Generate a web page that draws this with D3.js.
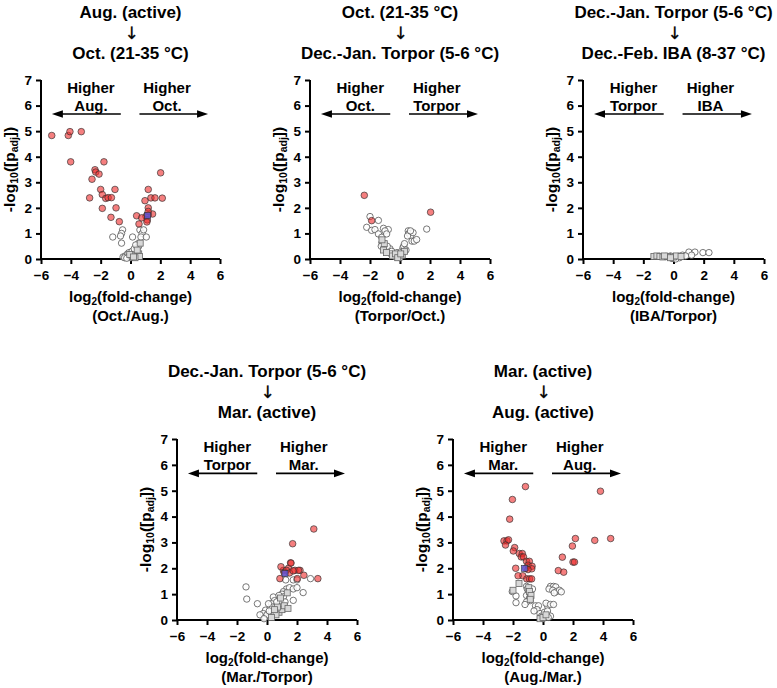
<!DOCTYPE html>
<html><head><meta charset="utf-8">
<script src="https://cdn.jsdelivr.net/npm/d3@7"></script>
<style>
body{margin:0;background:#fff;}
svg text{font-family:"Liberation Sans",Arial,sans-serif;font-weight:bold;fill:#000;}
</style></head>
<body><svg id="c" width="777" height="688"></svg>
<script>
// ---- data ----
const xTicks = [-6,-4,-2,0,2,4,6];
const yTicks = [0,1,2,3,4,5,6,7];
const titlesTop = ["Aug. (active)","Oct. (21-35 °C)","Dec.-Jan. Torpor (5-6 °C)","Dec.-Jan. Torpor (5-6 °C)","Mar. (active)"];
const titlesBottom = ["Oct. (21-35 °C)","Dec.-Jan. Torpor (5-6 °C)","Dec.-Feb. IBA (8-37 °C)","Mar. (active)","Aug. (active)"];
const leftLabels = [["Higher","Aug."],["Higher","Oct."],["Higher","Torpor"],["Higher","Torpor"],["Higher","Mar."]];
const rightLabels = [["Higher","Oct."],["Higher","Torpor"],["Higher","IBA"],["Higher","Mar."],["Higher","Aug."]];
const ratioLabels = ["(Oct./Aug.)","(Torpor/Oct.)","(IBA/Torpor)","(Mar./Torpor)","(Aug./Mar.)"];

const p1Red = [[-5.28,4.83],[-4.17,4.83],[-4.06,4.98],[-3.3,4.98],[-4.01,3.8],[-1.78,3.8],[-2.38,3.49],[-2.33,3.4],[-2.11,3.32],[-2.58,3.12],[-2.0,2.72],[-1.04,2.72],[-2.74,2.39],[-1.89,2.52],[-1.66,2.37],[-1.5,2.4],[-1.28,2.4],[-1.89,1.98],[-0.97,2.0],[-1.31,1.63],[-0.75,1.46],
  [2.02,3.37],[1.19,2.72],[0.97,2.28],[1.37,2.39],[1.64,2.39],[2.13,2.38],[1.19,2.0],[0.41,1.69],[1.04,1.67],[1.48,1.76],[0.75,1.61],[1.19,1.73],[1.13,1.53],[0.57,1.37],[1.19,1.86],[1.1,1.45]];
const p1Grey = [[-1.19,0.86],[-0.53,1.14],[-0.6,1.0],[-0.67,0.9],[-0.6,0.62],[0.14,0.86],[0.63,1.14],[0.78,1.0],[0.88,1.14],[0.7,0.86],[1.06,0.86],[0.52,0.6],[0.45,0.45],[0.4,0.3],[0.55,0.5],[-0.5,0.08],[-0.35,0.12],[-0.2,0.2],[-0.1,0.25],[0.05,0.1],[0.2,0.15],[0.3,0.22],[-0.4,0.05],[0.1,0.3],[0.25,0.4],[0.35,0.55],[0.0,0.05],[-0.25,0.03]];
const p1Sq = [[0.55,0.2],[0.6,0.1],[0.3,0.05],[0.1,0.12],[-0.05,0.18],[0.45,0.35],[0.2,0.08],[0.65,0.62]];
const p1Blue = [[1.15,1.7]];

const p2Red = [[-2.38,2.49],[-1.89,1.5],[2.04,1.83]];
const p2Grey = [[-2.0,1.66],[-1.44,1.51],[-2.22,1.24],[-1.89,1.12],[-1.67,1.15],[-1.1,1.2],[-0.78,1.15],[-1.0,1.1],[-1.44,0.98],[-1.22,0.85],[-0.89,0.98],[-1.2,0.65],[-1.15,0.55],[-1.05,0.45],[-1.25,0.5],[-0.67,0.4],[-0.55,0.3],[-0.45,0.15],[-0.2,0.25],[-0.1,0.1],[0.0,0.05],[-0.3,0.08],[0.1,0.3],[0.2,0.45],[0.25,0.5],[0.55,1.1],[0.6,1.0],[0.72,0.9],[0.5,0.9],[0.8,0.7],[0.95,0.7],[1.78,1.17],[1.11,0.76],[0.87,1.03],[0.7,1.1],[-0.85,0.5],[-0.6,0.2],[0.3,0.6],[0.4,0.35]];
const p2Sq = [[-1.05,0.6],[-1.1,0.35],[-0.9,0.25],[-0.5,0.12],[-0.3,0.2],[0.15,0.15],[0.3,0.3],[-0.15,0.05],[0.05,0.2],[-1.2,0.75]];
const p2Blue = [];

const p3Red = [];
const p3Grey = [[1.02,0.27],[1.42,0.27],[1.95,0.25],[2.35,0.25],[0.6,0.15],[0.3,0.1],[0.0,0.05],[-0.2,0.12],[0.8,0.12],[1.2,0.15],[-0.5,0.1],[0.4,0.05],[-0.1,0.02],[0.15,0.0]];
const p3Sq = [[-1.3,0.1],[-1.1,0.12],[-0.9,0.1],[-0.7,0.08],[-0.4,0.1],[-0.6,0.12],[0.0,0.08],[0.2,0.12],[0.5,0.1],[-0.2,0.05]];
const p3Blue = [];

const p4Red = [[3.12,3.52],[1.71,2.95],[1.57,2.21],[1.43,2.0],[1.09,1.92],[1.3,1.92],[1.86,1.92],[2.2,1.92],[2.1,1.92],[0.93,2.06],[1.15,1.82],[1.5,1.82],[2.46,1.73],[0.86,1.6],[2.02,1.6],[3.39,1.6],[1.6,2.2],[1.75,1.9]];
const p4Grey = [[2.9,1.6],[-1.4,1.28],[-1.35,0.81],[-0.64,0.63],[2.41,1.06],[1.75,0.76],[1.3,1.2],[1.5,1.25],[1.75,1.2],[2.0,1.25],[1.1,1.1],[1.0,1.0],[1.25,1.55],[1.75,1.55],[2.0,1.55],[0.42,0.89],[0.5,0.75],[0.3,0.63],[0.35,0.5],[0.1,0.63],[-0.1,0.38],[-0.25,0.25],[-0.1,0.12],[0.2,0.12],[0.7,0.38],[0.86,0.5],[1.0,0.63],[0.9,0.75],[1.1,0.9],[0.8,0.95],[0.6,0.55],[0.45,0.3],[0.0,0.2],[-0.47,0.2],[-0.2,0.05],[0.15,0.35],[0.65,0.7],[1.2,0.7]];
const p4Sq = [[0.8,0.3],[1.0,0.4],[0.6,0.2],[0.3,0.1],[1.15,0.55],[0.7,0.5],[1.4,0.45],[0.9,0.85],[0.5,0.4],[1.35,1.05]];
const p4Blue = [[1.2,1.8]];

const p5Red = [[-1.17,5.16],[-2.04,4.66],[-2.22,3.9],[3.83,4.98],[4.51,3.15],[3.45,3.08],[2.16,3.15],[1.96,2.86],[1.29,2.43],[2.0,2.24],[2.1,2.24],[1.02,1.91],[1.38,1.85],[-2.6,3.06],[-2.4,3.06],[-2.3,3.1],[-2.5,2.9],[-1.89,2.8],[-1.98,2.67],[-1.58,2.57],[-1.38,2.57],[-1.45,2.44],[-1.3,2.44],[-1.1,2.27],[-0.91,2.27],[-1.0,2.12],[-0.73,2.08],[-0.75,1.98],[-1.82,2.0],[-1.15,2.0],[-1.0,1.95],[-1.35,1.71],[-1.08,1.59],[-0.9,1.59],[-0.76,1.59],[-1.66,1.71]];
const p5Grey = [[-1.8,0.93],[-1.8,0.67],[-1.1,1.3],[-1.05,1.2],[-0.95,1.05],[-1.1,0.95],[-0.9,0.85],[-0.85,0.75],[-1.1,0.7],[-1.2,0.6],[-0.5,0.55],[-0.3,0.55],[-0.4,0.4],[-0.2,0.25],[-0.1,0.15],[0.1,0.3],[0.3,0.55],[0.2,0.65],[0.5,0.6],[0.7,0.6],[0.3,0.35],[0.5,0.15],[0.5,1.3],[0.7,1.3],[0.85,1.28],[0.4,1.2],[0.65,1.15],[0.9,1.1],[1.1,1.15],[0.75,1.05],[1.22,1.09],[-0.6,0.35],[0.0,0.05],[0.35,0.1],[-2.05,1.1],[-0.7,1.2]];
const p5Sq = [[-1.6,1.41],[-2.0,1.15],[-0.95,1.25],[-0.9,1.1],[-0.8,0.95],[-0.2,0.05],[0.0,0.1],[0.2,0.2],[-0.85,0.8]];
const p5Blue = [[-1.25,2.0]];

const pointSets = [
  [p1Red,p1Grey,p1Sq,p1Blue],
  [p2Red,p2Grey,p2Sq,p2Blue],
  [p3Red,p3Grey,p3Sq,p3Blue],
  [p4Red,p4Grey,p4Sq,p4Blue],
  [p5Red,p5Grey,p5Sq,p5Blue]
];

// ---- layout ----
const frames = [
  {l:41,r:220,t:80,b:259},
  {l:310,r:490,t:80,b:259},
  {l:583,r:764,t:80,b:259},
  {l:177,r:357,t:439,b:620},
  {l:453,r:633,t:439,b:620}
];

const svg = d3.select("#c");

frames.forEach((f,i)=>{
  const x = d3.scaleLinear().domain([-6,6]).range([f.l,f.r]);
  const y = d3.scaleLinear().domain([0,7]).range([f.b,f.t]);
  const g = svg.append("g");
  const cx = (f.l+f.r)/2;

  // titles
  g.append("text").attr("x",cx).attr("y",f.t-62).attr("text-anchor","middle").style("font-size","17px").text(titlesTop[i]);
  g.append("text").attr("x",Math.round(cx)+0.5).attr("y",f.t-41).attr("text-anchor","middle")
    .style("font-family","'DejaVu Sans',sans-serif").style("font-size","17px").style("font-weight","normal")
    .style("fill","#000").style("stroke","#000").style("stroke-width","0.3px").text("\u2193");
  g.append("text").attr("x",cx).attr("y",f.t-21).attr("text-anchor","middle").style("font-size","17px").text(titlesBottom[i]);

  // axes
  const ax = g.append("g").attr("transform",`translate(0,${f.b})`)
    .call(d3.axisBottom(x).tickValues(xTicks).tickSize(5).tickSizeOuter(0).tickFormat(d3.format("d")));
  const ay = g.append("g").attr("transform",`translate(${f.l},0)`)
    .call(d3.axisLeft(y).tickValues(yTicks).tickSize(5).tickSizeOuter(0).tickFormat(d3.format("d")));
  [ax,ay].forEach(a=>{
    a.select(".domain").attr("stroke","#000").attr("stroke-width",2);
    a.selectAll(".tick line").attr("stroke","#000").attr("stroke-width",2);
    a.selectAll(".tick text").style("font-size","13.5px").style("font-family","'Liberation Sans',Arial,sans-serif").style("font-weight","bold").attr("fill","#000");
  });
  ax.selectAll(".tick text").attr("dy","0.95em");
  ay.selectAll(".tick text").attr("dx","-1px");
  ax.select(".domain").attr("d",`M${f.l-1},0H${f.r}`);
  ay.select(".domain").attr("d",`M0,${f.b+1}V${f.t}`);

  // x label
  const xl = g.append("text").attr("x",cx).attr("y",f.b+43).attr("text-anchor","middle").style("font-size","15px");
  xl.append("tspan").text("log");
  xl.append("tspan").attr("baseline-shift","-25%").style("font-size","10px").text("2");
  xl.append("tspan").text("(fold-change)");
  g.append("text").attr("x",cx).attr("y",f.b+62).attr("text-anchor","middle").style("font-size","15px").text(ratioLabels[i]);

  // y label
  const yl = g.append("text").attr("transform",`translate(${f.l-26},${(f.t+f.b)/2}) rotate(-90)`).attr("text-anchor","middle").style("font-size","15.5px");
  yl.append("tspan").text("-log");
  yl.append("tspan").attr("baseline-shift","-25%").style("font-size","10.5px").text("10");
  yl.append("tspan").text("([p");
  yl.append("tspan").attr("baseline-shift","-25%").style("font-size","10.5px").text("adj");
  yl.append("tspan").text("])");

  // direction annotations
  const ay1 = y(5.67);
  const arrow = (x0,x1)=>{
    g.append("line").attr("x1",x(x0)).attr("x2",x(x1)+(x1<0?8:-8)).attr("y1",ay1).attr("y2",ay1).attr("stroke","#000").attr("stroke-width",1.6);
    const tip = x(x1), dir = x1<0?1:-1;
    g.append("path").attr("d",`M${tip},${ay1}L${tip+dir*11},${ay1-3.8}L${tip+dir*11},${ay1+3.8}Z`).attr("fill","#000");
  };
  arrow(-0.65,-5.27);
  arrow(0.6,5.2);
  const lx = x(-2.65), rx = x(2.45);
  g.append("text").attr("x",lx).attr("y",y(6.7)+5).attr("text-anchor","middle").style("font-size","15px").text(leftLabels[i][0]);
  g.append("text").attr("x",lx).attr("y",y(6.0)+5).attr("text-anchor","middle").style("font-size","15px").text(leftLabels[i][1]);
  g.append("text").attr("x",rx).attr("y",y(6.7)+5).attr("text-anchor","middle").style("font-size","15px").text(rightLabels[i][0]);
  g.append("text").attr("x",rx).attr("y",y(6.0)+5).attr("text-anchor","middle").style("font-size","15px").text(rightLabels[i][1]);

  // points
  const [red,grey,sq,blue] = pointSets[i];
  g.selectAll(".gc").data(grey).enter().append("circle")
    .attr("cx",d=>x(d[0])).attr("cy",d=>y(d[1])).attr("r",3.2)
    .attr("fill","#fff").attr("fill-opacity",0.85).attr("stroke","#555").attr("stroke-width",0.8);
  g.selectAll(".gs").data(sq).enter().append("rect")
    .attr("x",d=>x(d[0])-3).attr("y",d=>y(d[1])-3).attr("width",6).attr("height",6)
    .attr("fill","#d8d8d8").attr("stroke","#666").attr("stroke-width",0.8);
  g.selectAll(".rc").data(red).enter().append("circle")
    .attr("cx",d=>x(d[0])).attr("cy",d=>y(d[1])).attr("r",3.3)
    .attr("fill","#ee2a2a").attr("fill-opacity",0.6).attr("stroke","#333").attr("stroke-width",0.8).attr("stroke-opacity",0.85);
  g.selectAll(".bs").data(blue).enter().append("rect")
    .attr("x",d=>x(d[0])-3).attr("y",d=>y(d[1])-3).attr("width",6).attr("height",6)
    .attr("fill","#5a5ae0").attr("fill-opacity",0.8).attr("stroke","#333").attr("stroke-width",0.6);
});
</script></body></html>
